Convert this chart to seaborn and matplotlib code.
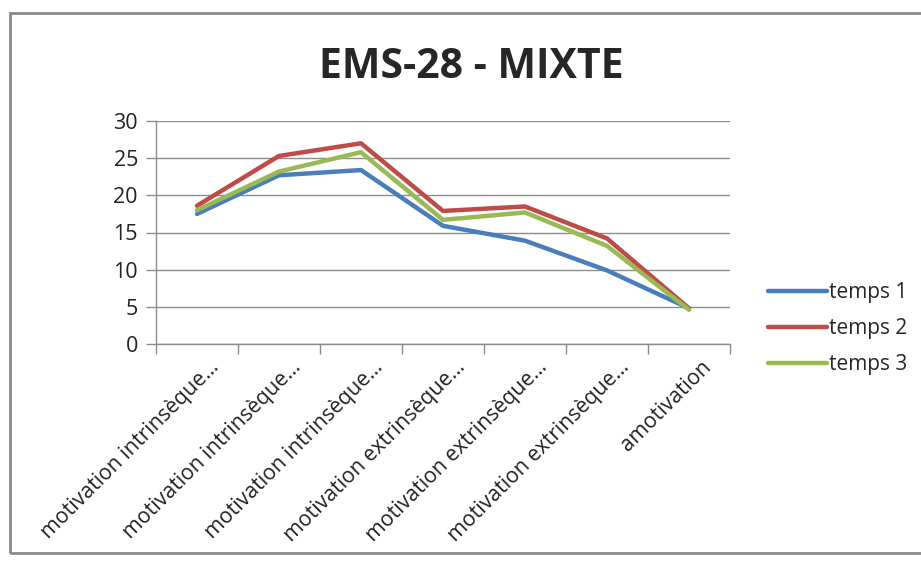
import matplotlib
matplotlib.use("Agg")
import matplotlib.pyplot as plt
import matplotlib.transforms as mtransforms
import seaborn as sns
import pandas as pd

categories = [
    "motivation intrinsèque…",
    "motivation intrinsèque…",
    "motivation intrinsèque…",
    "motivation extrinsèque…",
    "motivation extrinsèque…",
    "motivation extrinsèque…",
    "amotivation",
]
temps_1 = [17.5, 22.7, 23.4, 15.9, 13.9, 9.9, 4.8]
temps_2 = [18.6, 25.3, 27.0, 17.9, 18.5, 14.2, 4.8]
temps_3 = [18.0, 23.2, 25.8, 16.7, 17.7, 13.2, 4.6]
series_names = ["temps 1", "temps 2", "temps 3"]
y_ticks = [0, 5, 10, 15, 20, 25, 30]

rows = []
for name, vals in zip(series_names, [temps_1, temps_2, temps_3]):
    for i, v in enumerate(vals):
        rows.append({"pos": i, "valeur": v, "série": name})
df = pd.DataFrame(rows)

sns.set_theme(style="white")
plt.rcParams["font.family"] = ["Open Sans", "DejaVu Sans"]

W, H = 921, 568
fig = plt.figure(figsize=(W / 100, H / 100), dpi=100)
ax = fig.add_axes([156 / W, 1 - 344 / H, (730 - 156) / W, (344 - 121) / H])

palette = {"temps 1": "#4A7EBB", "temps 2": "#BE4B48", "temps 3": "#98B954"}
sns.lineplot(data=df, x="pos", y="valeur", hue="série", palette=palette,
             linewidth=3.2, ax=ax, legend=False, sort=False)

ax.set_xlim(-0.5, 6.5)
ax.set_ylim(0, 30)
ax.set_yticks(y_ticks)
ax.set_yticklabels([str(t) for t in y_ticks], fontsize=15.5, color="#222222")
ax.yaxis.grid(True, color="#8c8c8c", linewidth=1.0)
ax.set_axisbelow(True)
ax.set_xlabel("")
ax.set_ylabel("")

ax.set_xticks(range(len(categories)))
ax.set_xticklabels(categories, rotation=45, ha="right", rotation_mode="anchor",
                   fontsize=15.3, color="#222222")
ax.tick_params(axis="x", which="major", length=0, pad=9)
ax.set_xticks([i - 0.5 for i in range(len(categories) + 1)], minor=True)
ax.tick_params(axis="x", which="minor", length=7, color="#8c8c8c", width=1, direction="out", bottom=True)
ax.tick_params(axis="y", which="major", length=7, color="#8c8c8c", width=1, direction="out", left=True, pad=6)

# nudge rotated category labels so their ends sit just right of each category centre
shift = mtransforms.ScaledTranslation(12 / 100, 0, fig.dpi_scale_trans)
for lbl in ax.get_xticklabels():
    lbl.set_transform(lbl.get_transform() + shift)

for side in ["top", "right"]:
    ax.spines[side].set_visible(False)
for side in ["left", "bottom"]:
    ax.spines[side].set_color("#8c8c8c")
    ax.spines[side].set_linewidth(1.0)

fig.text(471 / W, 1 - 67 / H, "EMS-28 - MIXTE", ha="center", va="center",
         fontsize=29.5, fontweight="bold", color="#262626")

# legend
handles = [plt.Line2D([], [], color=palette[n], linewidth=3.2) for n in series_names]
fig.legend(handles, series_names, loc="upper left", bbox_to_anchor=(760 / W, 1 - 274 / H),
           frameon=False, fontsize=15, handlelength=2.8, handletextpad=0.1,
           labelspacing=0.72, borderaxespad=0)

# chart frame
frame = plt.Rectangle((10 / W, 1 - 553 / H), 1.0, (553 - 13) / H, transform=fig.transFigure,
                      fill=False, edgecolor="#8a8a8a", linewidth=2.0)
fig.patches.append(frame)

fig.savefig("out.png", dpi=100, facecolor="white")
